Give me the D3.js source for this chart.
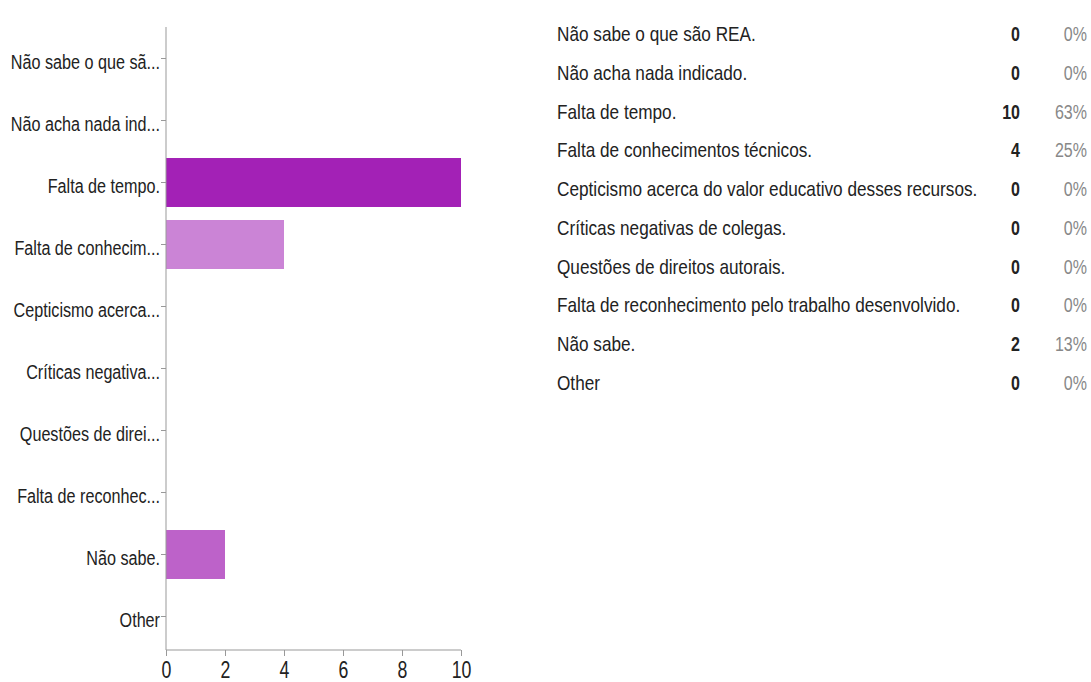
<!DOCTYPE html>
<html>
<head>
<meta charset="utf-8">
<script src="https://cdn.jsdelivr.net/npm/d3@7"></script>
<style>
  html, body { margin: 0; padding: 0; background: #fff; }
  svg { display: block; }
  text { font-family: "Liberation Sans Narrow", "Arial Narrow", "Liberation Sans", Arial, sans-serif; }
</style>
</head>
<body>
<svg id="chart" width="1091" height="682"></svg>
<script>
const categories = [
  "Não sabe o que são REA.",
  "Não acha nada indicado.",
  "Falta de tempo.",
  "Falta de conhecimentos técnicos.",
  "Cepticismo acerca do valor educativo desses recursos.",
  "Críticas negativas de colegas.",
  "Questões de direitos autorais.",
  "Falta de reconhecimento pelo trabalho desenvolvido.",
  "Não sabe.",
  "Other"
];
const axisLabels = [
  "Não sabe o que sã...",
  "Não acha nada ind...",
  "Falta de tempo.",
  "Falta de conhecim...",
  "Cepticismo acerca...",
  "Críticas negativa...",
  "Questões de direi...",
  "Falta de reconhec...",
  "Não sabe.",
  "Other"
];
const counts = [0, 0, 10, 4, 0, 0, 0, 0, 2, 0];
const percents = ["0%", "0%", "63%", "25%", "0%", "0%", "0%", "0%", "13%", "0%"];
const barColors = ["#a321b6", "#a321b6", "#a321b6", "#cb84d6", "#bd62c9", "#bd62c9", "#bd62c9", "#bd62c9", "#bd62c9", "#bd62c9"];
const xTicks = [0, 2, 4, 6, 8, 10];

const SX = 0.77; // condensed look of the original typeface
const svg = d3.select("#chart");

// ---- bar chart ----
const x = d3.scaleLinear().domain([0, 10]).range([166, 461]);
const y = d3.scaleBand().domain(d3.range(categories.length)).range([27.5, 647.5]).paddingInner(0.21).paddingOuter(0.105);

const g = svg.append("g");
g.selectAll("rect.bar")
  .data(counts)
  .join("rect")
  .attr("class", "bar")
  .attr("x", x(0))
  .attr("y", (d, i) => y(i))
  .attr("width", d => x(d) - x(0))
  .attr("height", y.bandwidth())
  .attr("fill", (d, i) => barColors[i]);

const yAxis = d3.axisLeft(y).tickSize(5).tickPadding(1).tickFormat(i => axisLabels[i]);
const yAx = g.append("g").attr("transform", `translate(${x(0)},0)`).call(yAxis);
yAx.select(".domain").remove();
yAx.append("line").attr("x1", 0).attr("x2", 0).attr("y1", 27).attr("y2", 650).attr("stroke", "#999");
yAx.selectAll(".tick line").attr("stroke", "#999");
yAx.selectAll(".tick text")
  .attr("fill", "#222").style("font-size", "21px")
  .attr("x", -6 / SX)
  .attr("dy", "0.48em")
  .attr("transform", `scale(${SX},1)`);

const xAxis = d3.axisBottom(x).tickValues(xTicks).tickSize(6).tickPadding(6).tickFormat(d3.format("d"));
const xAx = g.append("g").attr("transform", "translate(0,650)").call(xAxis);
xAx.select(".domain").attr("stroke", "#999").attr("d", `M${x(0)},0H${x(10)}`);
xAx.selectAll(".tick line").attr("stroke", "#999");
xAx.selectAll(".tick text").attr("fill", "#222").style("font-size", "23px")
  .attr("transform", `scale(${SX},1)`);

// ---- summary table ----
const rowY = d3.scalePoint().domain(d3.range(categories.length)).range([34, 383]);
const tbl = svg.append("g");
const rows = tbl.selectAll("g.row").data(categories).join("g").attr("class", "row")
  .attr("transform", (d, i) => `translate(0,${rowY(i)})`);
rows.append("text").attr("dy", "0.35em").attr("fill", "#222")
  .attr("transform", `translate(557,0) scale(0.86,1)`)
  .style("font-size", "20px").text(d => d);
rows.append("text").attr("dy", "0.35em").attr("text-anchor", "end")
  .attr("transform", `translate(1020,0) scale(0.8,1)`)
  .attr("fill", "#222").style("font-size", "20px").style("font-weight", "bold")
  .text((d, i) => counts[i]);
rows.append("text").attr("dy", "0.35em").attr("text-anchor", "end")
  .attr("transform", `translate(1087,0) scale(0.8,1)`)
  .attr("fill", "#888").style("font-size", "20px")
  .text((d, i) => percents[i]);
</script>
</body>
</html>
